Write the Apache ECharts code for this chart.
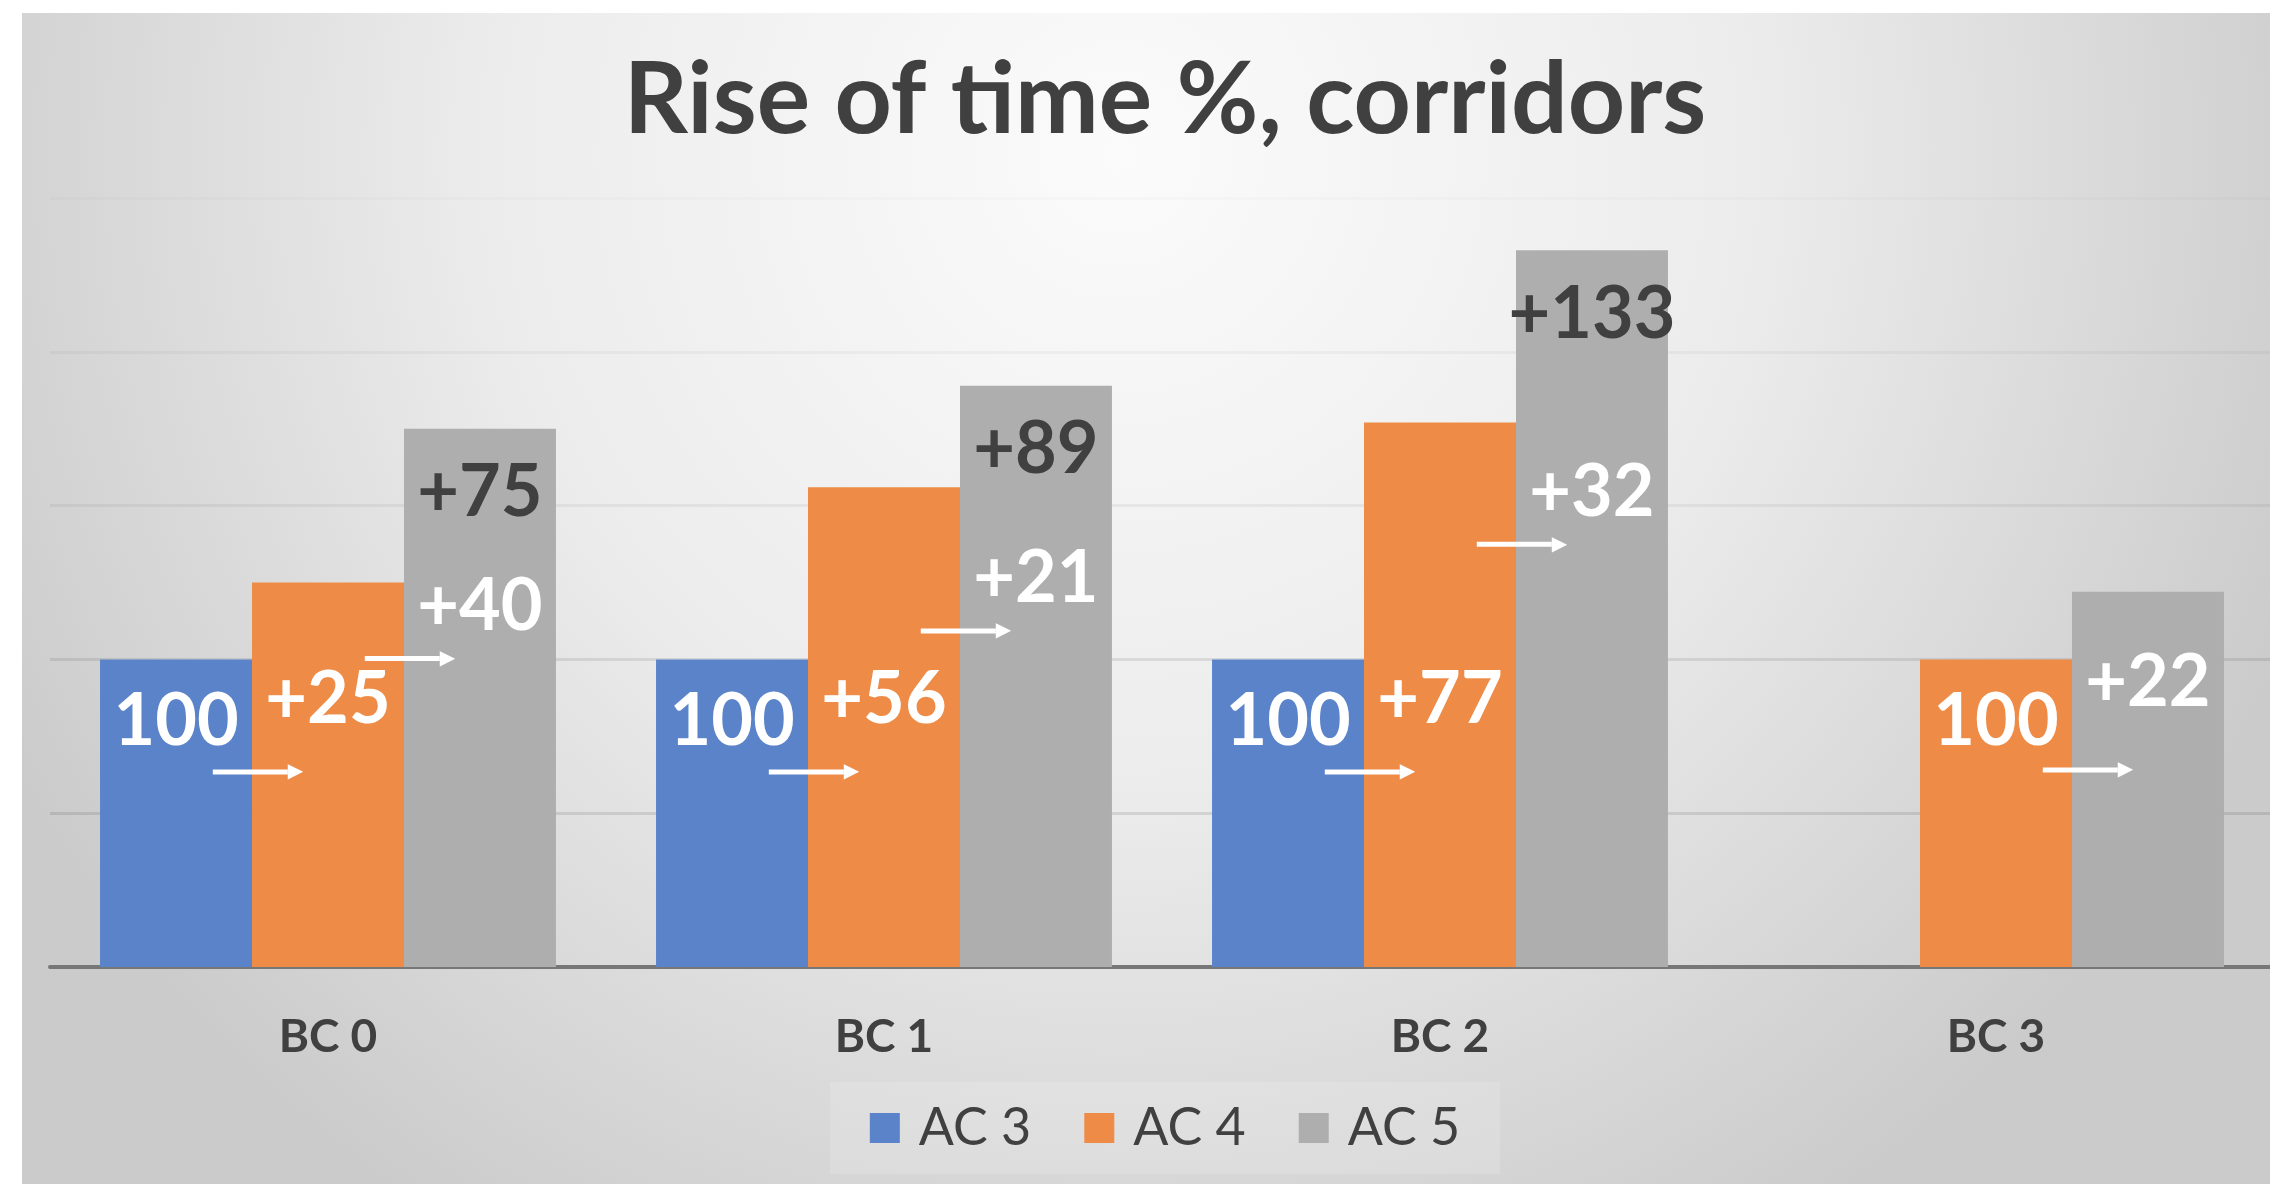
<!DOCTYPE html>
<html>
<head>
<meta charset="utf-8">
<title>Rise of time %, corridors</title>
<script src="https://cdn.jsdelivr.net/npm/echarts@6/dist/echarts.min.js"></script>
<style>
	html, body { margin: 0; padding: 0; background: #fff; overflow: hidden; }
	#chart { position: absolute; left: 22px; top: 13px; width: 2286px; height: 1171px; }
</style>
</head>
<body>
<div id="chart"></div>
<script>
	let categories = ['BC 0', 'BC 1', 'BC 2', 'BC 3'];
	let ac3 = [100, 100, 100, null];
	let ac4 = [125, 156, 177, 100];
	let ac5 = [175, 189, 233, 122];

	// texts written on the bars
	let baseText = ['100', '100', '100', '100'];
	let riseAc4 = ['+25', '+56', '+77', null];   // AC 4 against AC 3
	let riseAc5 = ['+40', '+21', '+32', '+22'];  // AC 5 against the bar before it
	let totalAc5 = ['+75', '+89', '+133', null]; // AC 5 against AC 3

	let names = ['AC 3', 'AC 4', 'AC 5'];
	let colors = ['#5B83C9', '#EE8B47', '#AEAEAE'];
	let font = 'Lato';

	let num = { color: '#fff', fontSize: 72, fontWeight: 'bold', fontFamily: font, lineHeight: 72, align: 'center' };
	function shaft(lh) {
		return { width: 75, height: 5, backgroundColor: '#fff', lineHeight: lh, align: 'center' };
	}
	function head(lh, shift) {
		return { color: '#fff', fontSize: 20, fontFamily: 'DejaVu Sans', lineHeight: lh, padding: [0, shift, 0, 0], align: 'center' };
	}
	let rich = {
		n: num,
		d: Object.assign({}, num, { color: '#404040' }),
		// arrow under a label: shaft + head, pushed to the left
		sh: shaft(72), hd: head(72, 140),
		sh2: shaft(102), hd2: head(102, 120),
		sh3: shaft(32), hd3: head(32, 140)
	};

	function baseLabel(text) {
		return { show: true, position: 'insideBottom', distance: 209, formatter: '{n|' + text + '}', rich: rich };
	}
	function stepLabel(text) { // second bar of a group
		return { show: true, position: 'insideBottom', distance: 159, formatter: '{n|' + text + '}\n{sh| }{hd|▶}', rich: rich };
	}
	function stepLabelLast(text) { // second bar of a group, sitting in the AC 5 slot
		return { show: true, position: 'insideBottom', distance: 146, formatter: '{n|' + text + '}\n{sh2| }{hd2|▶}', rich: rich };
	}
	function thirdLabel(text) { // third bar of a group
		return { show: true, position: ['50%', '36%'], align: 'center', verticalAlign: 'middle',
			formatter: '{n|' + text + '}\n{sh3| }{hd3|▶}', rich: rich };
	}
	function totalLabel(text) {
		return { show: true, position: 'insideTop', distance: 28, formatter: '{d|' + text + '}', rich: rich };
	}

	let values = [ac3, ac4, ac5];
	let series = [];

	// visible bars
	values.forEach((list, i) => {
		series.push({
			type: 'bar',
			name: names[i],
			xAxisIndex: 0,
			z: 2,
			barGap: '0%',
			barCategoryGap: '18%',
			itemStyle: { color: colors[i] },
			data: list.map((v, j) => {
				if (i === 2 && totalAc5[j]) return { value: v, label: totalLabel(totalAc5[j]) };
				return v;
			})
		});
	});

	// same bars again on a hidden axis, only to carry the step labels above all bars
	values.forEach((list, i) => {
		series.push({
			type: 'bar',
			name: '_' + names[i],
			xAxisIndex: 1,
			z: 3,
			silent: true,
			barGap: '0%',
			barCategoryGap: '18%',
			itemStyle: { color: 'transparent' },
			emphasis: { disabled: true },
			data: list.map((v, j) => {
				if (v == null) return null;
				let before = values.slice(0, i).filter(l => l[j] != null).length;
				let label;
				if (before === 0) label = baseLabel(baseText[j]);
				else if (before === 1) label = i === 1 ? stepLabel(riseAc4[j]) : stepLabelLast(riseAc5[j]);
				else label = thirdLabel(riseAc5[j]);
				return { value: v, label: label };
			})
		});
	});

	let option = {
		backgroundColor: {
			type: 'radial', x: 0.48, y: 0.12, r: 1.08,
			colorStops: [
				{ offset: 0, color: '#fbfbfb' },
				{ offset: 0.5, color: '#ececec' },
				{ offset: 1, color: '#cbcbcb' }
			]
		},
		title: {
			text: 'Rise of time %, corridors',
			left: 'center',
			top: 33,
			textStyle: { color: '#404040', fontSize: 100, fontWeight: 'bold', fontFamily: font }
		},
		legend: {
			data: names,
			left: 'center',
			top: 1069,
			padding: [20, 40],
			backgroundColor: 'rgba(255,255,255,0.15)',
			icon: 'rect',
			itemWidth: 30,
			itemHeight: 30,
			itemGap: 53,
			textStyle: { color: '#404040', fontSize: 52, fontFamily: font, padding: [0, 0, 0, 14] }
		},
		grid: { left: 28, top: 185, width: 2224, height: 769 },
		xAxis: [{
			type: 'category',
			data: categories,
			axisTick: { show: false },
			axisLine: { lineStyle: { color: '#777', width: 4 } },
			axisLabel: { color: '#404040', fontSize: 46, fontWeight: 'bold', fontFamily: font, margin: 47 }
		}, {
			type: 'category',
			data: categories,
			show: false
		}],
		yAxis: {
			type: 'value',
			min: 0,
			max: 250,
			interval: 50,
			axisLabel: { show: false },
			axisLine: { show: false },
			axisTick: { show: false },
			splitLine: {
				lineStyle: {
					// lines fade out towards the top, as in the picture
					color: ['#cccccc', 'rgba(0,0,0,0.1)', 'rgba(0,0,0,0.09)', 'rgba(0,0,0,0.05)', 'rgba(0,0,0,0.035)', 'rgba(0,0,0,0.015)'],
					width: 3
				}
			}
		},
		series: series
	};

	let chart = echarts.init(document.getElementById('chart'));
	chart.setOption(option);
	window.addEventListener('resize', function () {
		chart.resize();
	});
</script>
</body>
</html>
